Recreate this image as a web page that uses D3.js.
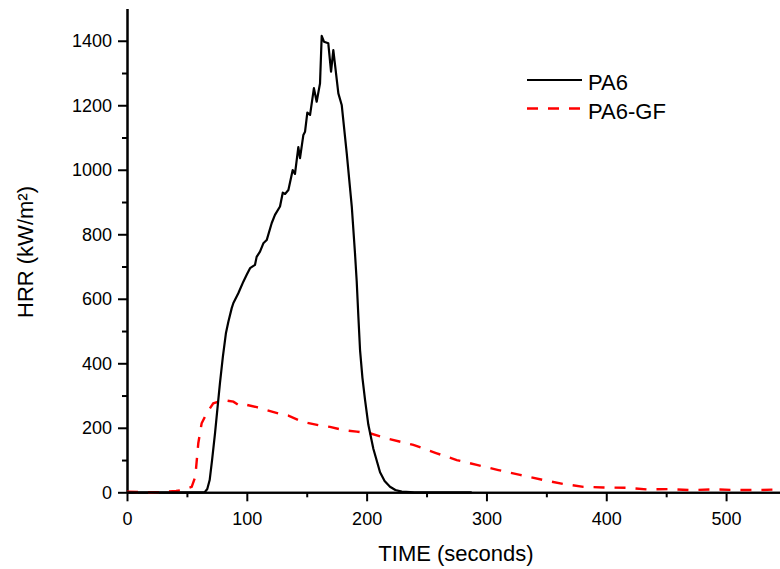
<!DOCTYPE html>
<html>
<head>
<meta charset="utf-8">
<script src="https://cdn.jsdelivr.net/npm/d3@7"></script>
<style>
	body { margin: 0; background: #fff; }
	svg { display: block; font-family: "Liberation Sans", Arial, Helvetica, sans-serif; }
	.axis path, .axis line { stroke: #000; stroke-width: 2px; }
	.axis text { font-size: 18px; fill: #000; }
</style>
</head>
<body>
<svg width="780" height="569"></svg>
<script>

// heat release rate curves
var pa6Time = [0, 10, 20, 30, 40, 50, 60, 65, 67, 69, 71, 73.5, 75.5, 77.6, 80, 82.6, 84.6, 87.4, 88.8,
	92.9, 97.1, 100, 102.7, 106.8, 108.2, 111, 113.8, 116.6, 120.8, 123.5, 127.7, 130, 131.9, 134.7,
	138.3, 140.2, 143, 144.4, 147.2, 148.6, 150.5, 152.8, 156, 158.3, 161.1, 162.5, 164.4, 168, 170.3,
	172.2, 176.4, 179.2, 183.4, 187.6, 190.3, 191.7, 193.1, 194.5, 196.5, 198.7, 201.4, 205.6, 211.2,
	215, 219.5, 224, 229.3, 240, 260, 287.7];
var pa6Hrr = [0, 0, 0, 0, 0, 0, 0, 1, 10, 38, 100, 184, 260, 339, 420, 494, 529, 571, 587,
	617, 653, 675, 695, 705, 730, 746, 772, 782, 835, 860, 886, 929, 925, 937,
	999, 987, 1070, 1036, 1108, 1118, 1177, 1170, 1253, 1211, 1268, 1415, 1397, 1392, 1304,
	1371, 1237, 1201, 1051, 886, 740, 655, 545, 441, 355, 286, 210, 135, 62,
	35, 17, 7, 2, 0, 0, 0];

var gfTime = [0, 10, 20, 30, 41, 47, 54, 57, 59.5, 62.3, 66.5, 72, 80.4, 88.8, 94.3, 100, 108.3,
	116.6, 127.7, 134.7, 144.4, 150, 161.1, 169.4, 180.6, 191.7, 202.8, 216.8, 239, 258.5, 275.2,
	291.9, 310, 328, 347.5, 364, 380.9, 397.6, 417, 433.8, 453, 470, 492, 509, 528, 545];
var gfHrr = [2, 1, 0, 1, 4, 8, 17, 48, 152, 214, 245, 276, 286, 281, 268, 271, 264,
	255, 243, 238, 222, 216, 207, 203, 193, 188, 183, 167, 147, 121, 100,
	85, 69, 54, 38, 26, 17, 15, 14, 9, 10, 7, 9, 7, 7, 9];

var xMajor = [0, 100, 200, 300, 400, 500];
var xMinor = [50, 150, 250, 350, 450];
var yMajor = [0, 200, 400, 600, 800, 1000, 1200, 1400];
var yMinor = [100, 300, 500, 700, 900, 1100, 1300];

var seriesNames = ['PA6', 'PA6-GF'];

var svg = d3.select('svg');

var x = d3.scaleLinear().domain([0, 545]).range([127, 780]);
var y = d3.scaleLinear().domain([0, 1500]).range([492.3, 8.5]);

// minor ticks first, no labels
svg.append('g').attr('class', 'axis')
	.attr('transform', 'translate(0,492.3)')
	.call(d3.axisBottom(x).tickValues(xMinor).tickSize(5).tickSizeOuter(0).tickFormat(''));
svg.append('g').attr('class', 'axis')
	.attr('transform', 'translate(127,0)')
	.call(d3.axisLeft(y).tickValues(yMinor).tickSize(5).tickSizeOuter(0).tickFormat(''));

svg.append('g').attr('class', 'axis')
	.attr('transform', 'translate(0,492.3)')
	.call(d3.axisBottom(x).tickValues(xMajor).tickSize(9).tickSizeOuter(0).tickPadding(11)
		.tickFormat(d3.format('d')));
svg.append('g').attr('class', 'axis')
	.attr('transform', 'translate(127,0)')
	.call(d3.axisLeft(y).tickValues(yMajor).tickSize(9).tickSizeOuter(0).tickPadding(6)
		.tickFormat(d3.format('d')));

svg.selectAll('.axis text').attr('font-family', null);

var line = d3.line()
	.x(function (d) { return x(d[0]); })
	.y(function (d) { return y(d[1]); });

svg.append('path')
	.datum(d3.zip(gfTime, gfHrr))
	.attr('d', line)
	.attr('fill', 'none')
	.attr('stroke', '#ff0000')
	.attr('stroke-width', 2.4)
	.attr('stroke-dasharray', '11,10');

svg.append('path')
	.datum(d3.zip(pa6Time, pa6Hrr))
	.attr('d', line)
	.attr('fill', 'none')
	.attr('stroke', '#000')
	.attr('stroke-width', 2.2)
	.attr('stroke-linejoin', 'round');

// axis titles
svg.append('text')
	.attr('x', 456).attr('y', 561)
	.attr('text-anchor', 'middle')
	.style('font-size', '22px')
	.text('TIME (seconds)');

svg.append('text')
	.attr('transform', 'translate(33,252) rotate(-90)')
	.attr('text-anchor', 'middle')
	.style('font-size', '22px')
	.text('HRR (kW/m²)');

// legend
var legend = svg.append('g').selectAll('g').data(seriesNames).enter().append('g')
	.attr('transform', function (d, i) { return 'translate(527,' + (80 + i * 28.5) + ')'; });

legend.append('line')
	.attr('x1', 0).attr('x2', 55)
	.attr('stroke', function (d, i) { return i ? '#ff0000' : '#000'; })
	.attr('stroke-width', function (d, i) { return i ? 2.4 : 2.2; })
	.attr('stroke-dasharray', function (d, i) { return i ? '11,10' : null; });

legend.append('text')
	.attr('x', 61).attr('y', 10)
	.style('font-size', '22px')
	.text(function (d) { return d; });

</script>
</body>
</html>
